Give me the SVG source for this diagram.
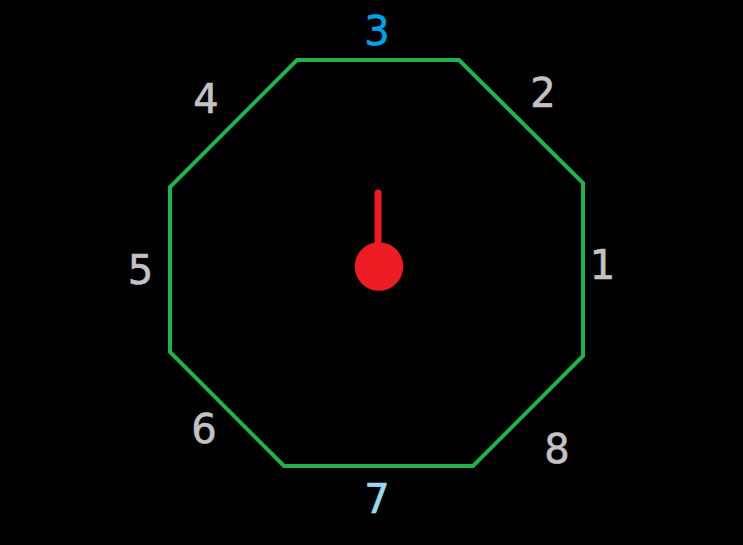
<svg xmlns="http://www.w3.org/2000/svg" width="743" height="545" viewBox="0 0 743 545">
<style>
.lbl{font-family:"DejaVu Sans",sans-serif;font-size:40px;text-anchor:middle;fill:#c3c3c3;stroke:#c3c3c3;stroke-width:0.6}
</style>
<rect width="743" height="545" fill="#000"/>
<g id="octagon">
<polygon points="297,60 459,60 583,183 583,356 473,466 284,466 170,352 170,187" fill="none" stroke="#22b14c" stroke-width="4" stroke-linejoin="miter"/>
</g>
<g id="pointer">
<line x1="378" y1="193" x2="378" y2="255" stroke="#ed1c24" stroke-width="7" stroke-linecap="round"/>
<circle cx="379" cy="266.5" r="24.3" fill="#ed1c24"/>
</g>
<g id="labels">
<text class="lbl" x="602.5" y="279">1</text>
<text class="lbl" x="543" y="106.5">2</text>
<text class="lbl" x="377" y="45" style="fill:#00a2e8;stroke:#00a2e8">3</text>
<text class="lbl" x="206" y="112.5">4</text>
<text class="lbl" x="140.5" y="283.5">5</text>
<text class="lbl" x="204" y="442.5">6</text>
<text class="lbl" x="377" y="513" style="fill:#99d9ea;stroke:#99d9ea">7</text>
<text class="lbl" x="557" y="462.5">8</text>
</g>
</svg>
